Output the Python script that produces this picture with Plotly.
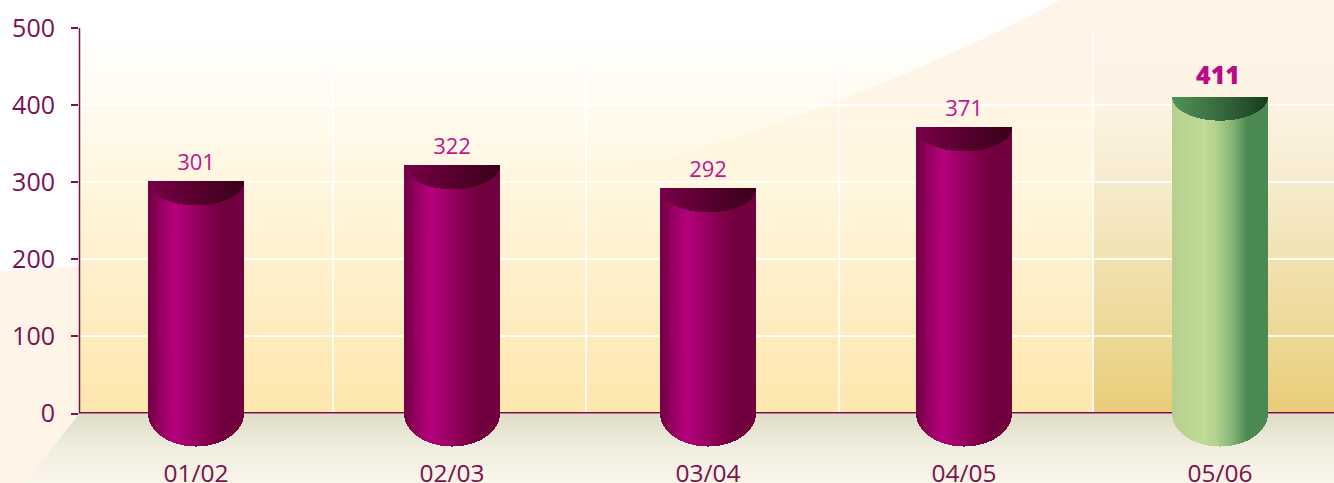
import numpy as np
import plotly.graph_objects as go

# ---- data ----
seasons = ["01/02", "02/03", "03/04", "04/05", "05/06"]
values = [301, 322, 292, 371, 411]
y_ticks = [0, 100, 200, 300, 400, 500]
highlight_index = 4

# ---- geometry / style ----
W, H = 1334, 483
PL, PT, PB = 79, 28, 413.5       # plot area in page pixels
C0, STEP = 196, 256              # first category centre and category step in pixels
HALF = 48                        # half bar width in pixels
UNIT = (PB - PT) / 500           # pixels per value unit
BOTTOM_D = 33 / UNIT             # depth of the bottom ellipse
TOP_D = 24 / UNIT                # depth of the top ellipse
INK = "#7d1050"
LABEL = "#c4148c"
GRID = "rgba(255,255,255,0.85)"
Y_MIN = -(H - PB) / UNIT
WALL_SPLIT_PX = 1093
WALL_LINES_PX = [332.5, 586, 839, 1092.5]
LINE_PX = 2


def fx(x):
    return x / W


def fy(y):
    return 1 - y / H


def xdata(px):
    return (px - C0) / STEP


def lerp(stops, t):
    ts = [s[0] for s in stops]
    return [float(np.interp(t, ts, [s[1][k] for s in stops])) for k in range(3)]


def rgb(c):
    return "rgb(%d,%d,%d)" % tuple(round(v) for v in c)


shapes = []
# white swoosh over the peach page
shapes.append(dict(
    type="path", xref="paper", yref="paper", layer="below", line_width=0, fillcolor="#ffffff",
    path="M 0 1 L %.5f 1 C %.5f %.5f %.5f %.5f 0 %.5f Z" % (
        fx(1060), fx(800), fy(140), fx(420), fy(250), fy(271))))

# floor
for y in range(414, H):
    t = (y - 414) / (H - 414)
    c = lerp([(0, (223, 221, 198)), (0.5, (240, 239, 224)), (1, (250, 246, 234))], t)
    x_left = 79 - (y + 0.5 - 414) * 54 / 69
    shapes.append(dict(type="rect", xref="paper", yref="paper", layer="below", line_width=0,
                       x0=fx(x_left), x1=1, y0=fy(y + 1), y1=fy(y), fillcolor=rgb(c)))

# y axis line, only from 0 up to 500
shapes.append(dict(type="line", xref="paper", yref="paper", layer="above",
                   x0=fx(79.5), x1=fx(79.5), y0=fy(PB), y1=fy(PT),
                   line=dict(color=INK, width=1.5)))

# ---- cylinder colour ramps (position across bar, rgb) ----
PURPLE = [(0, (112, 0, 68)), (0.10, (140, 0, 88)), (0.26, (178, 0, 122)), (0.34, (174, 0, 118)),
          (0.62, (132, 0, 78)), (0.78, (112, 0, 62)), (1, (112, 0, 62))]
PURPLE_TOP = [(0, (120, 0, 72)), (0.5, (88, 0, 46)), (1, (56, 0, 24))]
GREEN = [(0, (182, 207, 142)), (0.33, (192, 219, 150)), (0.45, (180, 210, 142)),
         (0.62, (136, 182, 120)), (0.78, (74, 138, 82)), (1, (74, 138, 82))]
GREEN_TOP = [(0, (80, 148, 86)), (0.5, (54, 106, 62)), (1, (24, 60, 32))]

xs, base_body, top_body, col_body = [], [], [], []
base_cap, top_cap, col_cap = [], [], []
for i, v in enumerate(values):
    body = GREEN if i == highlight_index else PURPLE
    cap = GREEN_TOP if i == highlight_index else PURPLE_TOP
    for p in range(2 * HALF):
        dx = (p + 0.5 - HALF) / HALF
        arc = np.sqrt(1 - dx * dx)
        t = (p + 0.5) / (2 * HALF)
        xs.append(i + dx * HALF / STEP)
        base_body.append(-BOTTOM_D * arc)
        top_body.append(v)
        col_body.append(rgb(lerp(body, t)))
        base_cap.append(v - TOP_D * arc)
        top_cap.append(v)
        col_cap.append(rgb(lerp(cap, t)))

fig = go.Figure()

# wall gradients: t runs from the top (0) to the bottom (1) of the wall
edges = np.linspace(0, 500, 194)
mid = (edges[:-1] + edges[1:]) / 2
wall_t = [[float(1 - m / 500)] for m in mid]
WALL_LEFT = [[0, "rgba(255,248,228,0)"], [0.4, "rgba(255,246,222,1)"], [1, "rgba(254,230,172,1)"]]
WALL_RIGHT = [[0, "rgba(254,244,232,0)"], [0.4, "rgba(246,235,205,1)"],
              [0.8, "rgba(237,216,150,1)"], [1, "rgba(232,204,120,1)"]]
for x_a, x_b, scale in [(PL, WALL_SPLIT_PX, WALL_LEFT), (WALL_SPLIT_PX, W, WALL_RIGHT)]:
    fig.add_trace(go.Heatmap(x=[xdata(x_a), xdata(x_b)], y=edges, z=wall_t, zmin=0, zmax=1,
                             showscale=False, colorscale=scale, hoverinfo="skip"))

# wall lines and the baseline: thin bars, above the wall gradient and below the cylinders
span_mid = (xdata(PL) + xdata(W)) / 2
span_w = xdata(W) - xdata(PL)
fig.add_trace(go.Bar(x=[span_mid] * 4, width=span_w, y=[LINE_PX / UNIT] * 4,
                     base=[v - LINE_PX / UNIT / 2 for v in y_ticks[1:-1]],
                     marker=dict(color=GRID, line_width=0), hoverinfo="skip", showlegend=False))
fig.add_trace(go.Bar(x=[xdata(p) for p in WALL_LINES_PX], width=LINE_PX / STEP, y=[497] * 4,
                     base=[0] * 4,
                     marker=dict(color=GRID, line_width=0), hoverinfo="skip", showlegend=False))
fig.add_trace(go.Bar(x=[span_mid], width=span_w, y=[1 / UNIT], base=[-0.5 / UNIT],
                     marker=dict(color="#b87a98", line_width=0), hoverinfo="skip", showlegend=False))
fig.add_trace(go.Bar(x=[span_mid], width=span_w, y=[1 / UNIT], base=[0.5 / UNIT],
                     marker=dict(color="#7a0c48", line_width=0), hoverinfo="skip", showlegend=False))

fig.add_trace(go.Bar(x=xs, y=np.array(top_body) - np.array(base_body), base=base_body,
                     width=1 / STEP, marker=dict(color=col_body, line_width=0),
                     hoverinfo="skip", showlegend=False))
fig.add_trace(go.Bar(x=xs, y=np.array(top_cap) - np.array(base_cap), base=base_cap,
                     width=1 / STEP, marker=dict(color=col_cap, line_width=0),
                     hoverinfo="skip", showlegend=False))

# value labels
plain = [i for i in range(len(values)) if i != highlight_index]
fig.add_trace(go.Scatter(
    x=plain, y=[values[i] for i in plain], mode="markers+text",
    marker=dict(size=8, opacity=0),
    text=[str(values[i]) for i in plain], textposition="top center",
    textfont=dict(family="Open Sans", size=22, color=LABEL),
    showlegend=False, hoverinfo="skip"))
fig.add_trace(go.Scatter(
    x=[highlight_index - 2 / STEP], y=[values[highlight_index]], mode="markers+text",
    marker=dict(size=8, opacity=0),
    text=[str(values[highlight_index])], textposition="top center",
    textfont=dict(family="Open Sans", size=25, color="#bb0a88", weight=800),
    showlegend=False, hoverinfo="skip"))

fig.update_layout(
    width=W, height=H, margin=dict(l=0, r=0, t=0, b=0, autoexpand=False), autosize=False,
    paper_bgcolor="#fef4e8", plot_bgcolor="rgba(0,0,0,0)",
    barmode="overlay", bargap=0, shapes=shapes,
    xaxis=dict(domain=[PL / W, 1], range=[xdata(PL), xdata(W)],
               anchor="free", position=1 - PB / H,
               tickmode="array", tickvals=list(range(len(seasons))), ticktext=seasons,
               ticks="outside", ticklen=38, tickcolor="rgba(0,0,0,0)", tickwidth=1,
               tickfont=dict(family="Open Sans", size=24.5, color=INK),
               showline=False, showgrid=False, zeroline=False),
    yaxis=dict(domain=[0, 1 - PT / H], range=[Y_MIN, 500],
               tickmode="array", tickvals=y_ticks, ticks="outside", ticklen=7,
               tickcolor=INK, tickwidth=1.5, ticklabelstandoff=11,
               tickfont=dict(family="Open Sans", size=25, color=INK),
               showline=False, showgrid=False, zeroline=False),
)
fig.write_html("out.html", config={"displayModeBar": False},
               post_script="document.body.style.margin='0';")
